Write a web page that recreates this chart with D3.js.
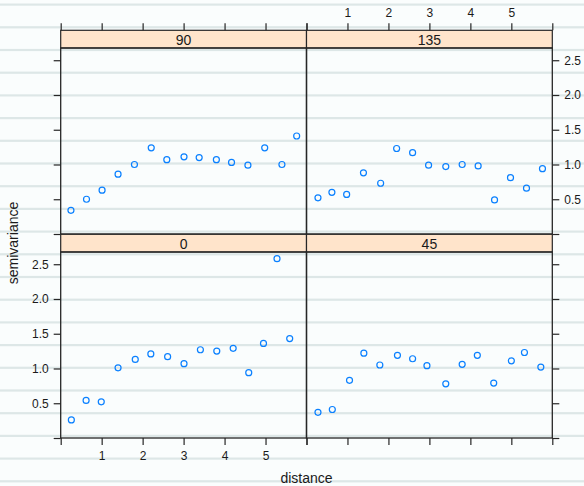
<!DOCTYPE html>
<html>
<head>
<meta charset="utf-8">
<script src="https://cdn.jsdelivr.net/npm/d3@7"></script>
<style>
  html, body { margin: 0; padding: 0; background: #fafdfd; }
  svg { display: block; }
  text { font-family: "Liberation Sans", Arial, Helvetica, sans-serif; fill: #1a1a1a; }
</style>
</head>
<body>
<svg id="chart" width="584" height="486"></svg>
<script>
// Directional sample variograms: lag distance vs. semivariance, one panel per direction
const dist90   = [0.25, 0.63, 1.01, 1.40, 1.80, 2.21, 2.59, 3.01, 3.38, 3.80, 4.17, 4.57, 4.98, 5.40, 5.76];
const gamma90  = [0.34, 0.50, 0.63, 0.86, 1.00, 1.24, 1.07, 1.11, 1.10, 1.07, 1.03, 0.99, 1.24, 1.00, 1.41];

const dist135  = [0.28, 0.62, 0.98, 1.39, 1.81, 2.20, 2.59, 2.98, 3.40, 3.80, 4.19, 4.59, 4.98, 5.37, 5.76];
const gamma135 = [0.52, 0.60, 0.57, 0.88, 0.73, 1.23, 1.17, 0.99, 0.97, 1.00, 0.98, 0.49, 0.81, 0.66, 0.94];

const dist0    = [0.26, 0.62, 0.99, 1.40, 1.82, 2.20, 2.61, 3.01, 3.41, 3.81, 4.21, 4.59, 4.95, 5.28, 5.59];
const gamma0   = [0.26, 0.54, 0.52, 1.01, 1.13, 1.21, 1.17, 1.07, 1.27, 1.25, 1.29, 0.94, 1.36, 2.58, 1.43];

const dist45   = [0.28, 0.63, 1.05, 1.40, 1.79, 2.22, 2.59, 2.94, 3.40, 3.80, 4.17, 4.57, 5.00, 5.32, 5.72];
const gamma45  = [0.37, 0.41, 0.83, 1.22, 1.05, 1.19, 1.14, 1.04, 0.78, 1.06, 1.19, 0.79, 1.11, 1.23, 1.02];

const directions = ["90", "135", "0", "45"];
const xTicks = [0, 1, 2, 3, 4, 5, 6];
const xTickLabels = ["", "1", "2", "3", "4", "5", ""];
const yTicks = [0, 0.5, 1.0, 1.5, 2.0, 2.5];
const yTickLabels = ["", "0.5", "1.0", "1.5", "2.0", "2.5"];
const xDomain = [0, 6];
const yDomain = [0, 2.676];

const panelData = {
  "90":  { d: dist90,  g: gamma90 },
  "135": { d: dist135, g: gamma135 },
  "0":   { d: dist0,   g: gamma0 },
  "45":  { d: dist45,  g: gamma45 }
};

const svg = d3.select("#chart");
const W = 584, H = 486;

// ruled-paper background
const ruleY = d3.range(4.5, H, 22.7);
svg.append("g").selectAll("rect").data(ruleY).join("rect")
  .attr("x", 0).attr("y", d => d - 1).attr("width", W).attr("height", 2.2)
  .attr("fill", "#dde7e7");

// layout of the 2x2 lattice
const colLeft = [60.7, 306.5];
const colW = 245.8;
const rowPanelTop = [48, 252];
const panelH = 186;
const stripH = 17.7;
// panel order: top-left, top-right, bottom-left, bottom-right
const cells = directions.map((dir, i) => ({
  dir, col: i % 2, row: Math.floor(i / 2)
}));

const ink = "#262626";
const tickLen = 7;

cells.forEach(c => {
  const x0 = colLeft[c.col], x1 = x0 + colW;
  const y0 = rowPanelTop[c.row], y1 = y0 + panelH;
  const x = d3.scaleLinear().domain(xDomain).range([x0, x1]);
  const y = d3.scaleLinear().domain(yDomain).range([y1, y0]);
  const g = svg.append("g");

  // strip
  g.append("rect").attr("x", x0).attr("y", y0 - stripH).attr("width", colW).attr("height", stripH)
    .attr("fill", "#ffe4cb").attr("stroke", ink).attr("stroke-width", 1.2);
  g.append("text").attr("x", (x0 + x1) / 2).attr("y", y0 - 3.2)
    .attr("text-anchor", "middle").attr("font-size", 14).text(c.dir);

  // points
  const pd = panelData[c.dir];
  g.append("g").selectAll("circle").data(d3.range(pd.d.length)).join("circle")
    .attr("cx", i => x(pd.d[i])).attr("cy", i => y(pd.g[i])).attr("r", 3)
    .attr("fill", "none").attr("stroke", "#0a80ff").attr("stroke-width", 1.2);

  // panel box
  g.append("rect").attr("x", x0).attr("y", y0).attr("width", colW).attr("height", panelH)
    .attr("fill", "none").attr("stroke", ink).attr("stroke-width", 1.3);

  // x axis: bottom on bottom row, top on top row; labels alternate
  const xAxisTop = c.row === 0;
  const xLabelled = (c.row === 1 && c.col === 0) || (c.row === 0 && c.col === 1);
  const xAxis = (xAxisTop ? d3.axisTop(x) : d3.axisBottom(x))
    .tickValues(xTicks).tickSize(tickLen).tickPadding(6)
    .tickFormat((d, i) => xLabelled ? xTickLabels[i] : "");
  const xg = g.append("g")
    .attr("transform", `translate(0,${xAxisTop ? y0 - stripH : y1})`)
    .call(xAxis);

  // y axis: left on left column, right on right column; labels alternate
  const yLeft = c.col === 0;
  const yLabelled = (c.row === 1 && c.col === 0) || (c.row === 0 && c.col === 1);
  const yAxis = (yLeft ? d3.axisLeft(y) : d3.axisRight(y))
    .tickValues(yTicks).tickSize(tickLen).tickPadding(5)
    .tickFormat((d, i) => yLabelled ? yTickLabels[i] : "");
  const yg = g.append("g")
    .attr("transform", `translate(${yLeft ? x0 : x1},0)`)
    .call(yAxis);

  [xg, yg].forEach(ax => {
    ax.select(".domain").remove();
    ax.selectAll(".tick line").attr("stroke", ink).attr("stroke-width", 1.2);
    ax.selectAll(".tick text").attr("font-size", 12).attr("fill", "#1a1a1a")
      .attr("font-family", "Liberation Sans, Arial, sans-serif");
  });
});

// axis titles
svg.append("text").attr("x", 306.5).attr("y", 483)
  .attr("text-anchor", "middle").attr("font-size", 14).text("distance");
svg.append("text").attr("transform", `translate(18,243) rotate(-90)`)
  .attr("text-anchor", "middle").attr("font-size", 14).text("semivariance");
</script>
</body>
</html>
